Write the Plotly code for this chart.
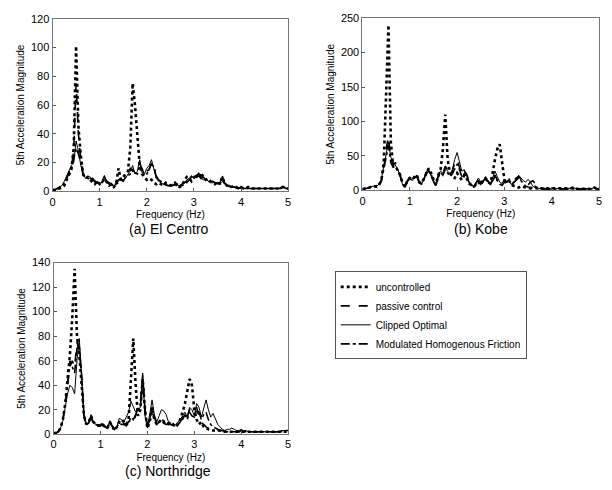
import plotly.graph_objects as go

freq = [0.0, 0.05, 0.1, 0.15, 0.2, 0.25, 0.3, 0.35, 0.4, 0.45,
        0.5, 0.55, 0.6, 0.65, 0.7, 0.75, 0.8, 0.85, 0.9, 0.95,
        1.0, 1.05, 1.1, 1.15, 1.2, 1.25, 1.3, 1.35, 1.4, 1.45,
        1.5, 1.55, 1.6, 1.65, 1.7, 1.75, 1.8, 1.85, 1.9, 1.95,
        2.0, 2.05, 2.1, 2.15, 2.2, 2.25, 2.3, 2.35, 2.4, 2.45,
        2.5, 2.55, 2.6, 2.65, 2.7, 2.75, 2.8, 2.85, 2.9, 2.95,
        3.0, 3.05, 3.1, 3.15, 3.2, 3.25, 3.3, 3.35, 3.4, 3.45,
        3.5, 3.55, 3.6, 3.65, 3.7, 3.75, 3.8, 3.85, 3.9, 3.95,
        4.0, 4.05, 4.1, 4.15, 4.2, 4.25, 4.3, 4.35, 4.4, 4.45,
        4.5, 4.55, 4.6, 4.65, 4.7, 4.75, 4.8, 4.85, 4.9, 4.95,
        5.0]

series_names = ["uncontrolled", "passive control", "Clipped Optimal",
                "Modulated Homogenous Friction"]

# El Centro
ec_unc = [1,1,2,2,3,4,8,12,15,30, 101,45,25,12,9,10,8,6,5,7, 5,6,9,6,4,5,3,5,16,8,
          10,12,14,30,75,60,40,18,12,10, 8,9,8,6,5,6,5,4,6,5, 4,5,6,4,3,4,8,10,9,7,
          10,12,9,13,10,8,9,7,6,5, 7,5,10,6,4,3,3,4,3,2, 3,2,2,3,2,2,2,2,2,2,
          2,2,2,2,2,2,2,3,3,2, 2]
ec_pas = [1,1,2,3,4,6,10,14,17,28, 75,40,22,12,10,11,9,8,7,6, 6,8,10,7,5,6,4,6,8,9,
          10,11,13,16,14,15,16,20,14,12, 14,15,20,18,10,8,6,5,5,4, 4,5,5,4,4,5,6,7,8,9,
          10,11,12,10,9,9,8,7,7,6, 6,6,11,6,4,3,3,3,3,2, 3,2,2,2,2,2,2,2,2,2,
          2,2,2,2,2,2,2,3,2,2, 2]
ec_clip = [1,1,2,3,4,7,11,14,18,20, 35,28,18,12,9,10,10,8,6,7, 5,7,11,6,5,4,4,5,7,9,
           8,9,12,14,18,12,14,22,13,12, 16,18,22,16,9,7,6,5,4,4, 4,5,4,4,4,5,6,8,9,11,
           9,10,13,9,8,9,7,6,6,6, 5,6,10,5,4,3,3,3,2,2, 2,2,2,2,2,2,2,2,2,2,
           2,2,2,2,2,2,2,3,3,2, 2]
ec_mhf = [1,1,2,2,4,6,9,13,16,22, 30,26,20,11,10,9,8,9,7,6, 7,6,8,7,6,5,4,5,6,8,
          7,10,11,12,15,13,12,18,16,11, 12,15,19,17,11,8,7,6,5,5, 4,4,5,5,4,4,5,6,8,10,
          11,10,11,9,10,8,7,7,6,6, 6,5,8,5,4,4,3,3,2,2, 3,2,2,2,2,2,2,2,2,2,
          2,2,2,2,2,2,2,2,3,2, 2]

# Kobe
kb_unc = [2,2,3,4,6,6,5,8,15,40, 150,240,70,35,35,28,22,10,5,15, 18,15,20,22,12,10,18,25,32,25,
          15,8,22,30,60,110,45,25,20,18, 25,20,15,22,18,10,8,5,8,12, 8,15,18,12,10,25,45,60,67,40,
          15,12,14,8,6,5,4,6,5,4, 3,3,4,5,3,3,2,2,2,2, 2,2,2,3,2,2,3,2,3,4,
          3,2,3,2,3,2,2,3,4,3, 3]
kb_pas = [2,2,3,4,6,6,6,8,14,30, 60,78,45,38,40,32,22,10,4,14, 20,16,18,22,12,8,16,26,30,24,
          14,6,20,30,25,35,30,22,28,40, 45,35,22,28,24,14,8,5,10,16, 10,14,18,14,10,16,22,15,10,8,
          14,12,16,10,14,18,20,16,15,10, 8,12,14,10,6,4,3,2,2,2, 2,2,2,3,2,2,3,2,3,3,
          2,2,3,2,3,2,2,3,3,3, 2]
kb_clip = [2,2,3,4,6,6,6,9,16,35, 55,70,48,42,38,30,20,8,4,15, 18,14,20,20,10,9,17,28,30,22,
           12,8,22,28,25,32,28,24,30,45, 55,40,28,30,22,12,7,6,12,18, 12,12,17,13,9,18,28,20,12,10,
           16,12,14,8,10,14,22,18,14,12, 16,12,6,4,3,3,2,2,2,2, 2,2,2,3,2,2,3,2,3,4,
           3,2,3,2,3,2,2,3,4,3, 3]
kb_mhf = [2,2,3,4,5,6,6,8,13,30, 50,65,40,34,35,28,20,9,5,13, 17,15,18,21,11,9,16,24,28,23,
          13,7,18,26,22,30,25,20,24,32, 38,30,20,24,20,12,8,5,9,14, 9,13,16,12,9,14,20,14,9,7,
          12,10,14,9,12,16,18,14,10,6, 5,4,3,3,2,2,2,2,2,2, 2,2,2,2,2,2,3,2,3,3,
          2,2,3,2,3,2,2,3,3,2, 2]

# Northridge
nr_unc = [1,1,2,5,12,25,45,65,95,135, 80,65,40,15,8,10,15,10,8,7, 7,8,6,5,10,6,3,6,10,12,
          10,8,12,45,78,40,15,20,45,20, 5,10,20,12,8,10,12,10,8,9, 10,8,6,8,12,18,25,35,45,40,
          20,12,8,10,6,5,4,3,3,3, 3,3,3,2,2,2,2,2,2,2, 2,2,2,2,2,2,2,2,2,2,
          2,2,2,2,2,2,2,2,2,2, 2]
nr_pas = [1,1,2,5,12,24,40,55,60,55, 75,70,45,15,8,9,14,9,8,7, 8,7,6,5,10,7,4,6,10,9,
          9,8,10,12,10,15,22,25,48,20, 8,12,18,14,9,8,10,9,8,8, 9,8,7,8,10,14,18,14,20,18,
          18,22,14,10,8,6,5,4,3,3, 3,3,3,2,2,2,2,2,2,2, 3,2,2,2,2,2,2,2,2,2,
          2,2,2,2,2,2,2,2,2,3, 3]
nr_clip = [1,1,2,5,11,22,33,40,38,33, 60,78,50,15,8,10,16,10,8,8, 8,9,6,5,11,7,4,6,13,12,
           10,14,18,27,22,18,20,22,50,15, 5,15,28,16,10,15,20,19,16,10, 8,7,8,10,12,15,18,14,22,20,
           15,25,22,14,22,28,20,14,17,12, 8,6,4,3,4,4,5,4,3,3, 4,3,3,2,2,2,2,2,2,2,
           2,2,2,2,2,2,2,3,3,3, 3]
nr_mhf = [1,1,2,5,12,24,42,60,55,50, 70,72,48,14,8,9,14,9,8,7, 7,8,6,5,9,6,4,6,9,8,
          8,7,9,14,12,16,20,22,45,18, 6,12,22,14,8,10,12,11,9,8, 8,7,7,8,10,12,16,12,18,15,
          14,20,18,12,16,18,12,8,6,5, 4,3,3,2,2,2,2,2,2,2, 2,2,2,2,2,2,2,2,2,2,
          2,2,2,2,2,2,2,2,2,3, 3]

panels = [
    ("x", "y", [ec_unc, ec_pas, ec_clip, ec_mhf]),
    ("x2", "y2", [kb_unc, kb_pas, kb_clip, kb_mhf]),
    ("x3", "y3", [nr_unc, nr_pas, nr_clip, nr_mhf]),
]
styles = [dict(dash="dot", width=2.6), dict(dash="dash", width=1.6),
          dict(dash="solid", width=1.0), dict(dash="dashdot", width=1.6)]

fig = go.Figure()
for pi, (xa, ya, data) in enumerate(panels):
    for si, vals in enumerate(data):
        fig.add_trace(go.Scatter(
            x=freq, y=vals, xaxis=xa, yaxis=ya, mode="lines",
            name=series_names[si], showlegend=(pi == 0),
            line=dict(color="black", **styles[si])))

W, H = 612, 490
def dx(a, b):
    return [a / W, b / W]
def dy(top, bot):
    return [1 - bot / H, 1 - top / H]

font = "Liberation Sans, Arial, sans-serif"
axcommon = dict(showgrid=False, zeroline=False, showline=True, mirror=True,
                linecolor="#777", linewidth=1, ticks="inside", ticklen=3,
                tickcolor="#555", tickfont=dict(size=11, color="black", family=font))

fig.update_layout(
    width=W, height=H, margin=dict(l=0, r=0, t=0, b=0),
    paper_bgcolor="white", plot_bgcolor="white",
    font=dict(family=font, color="black"),
    xaxis=dict(domain=dx(50, 288), range=[0, 5], dtick=1, anchor="y",
               title=dict(text="Frequency (Hz)", font=dict(size=10), standoff=4), **axcommon),
    yaxis=dict(domain=dy(13, 190), range=[0, 120], dtick=20, anchor="x",
               title=dict(text="5th Acceleration Magnitude", font=dict(size=10), standoff=4), **axcommon),
    xaxis2=dict(domain=dx(363, 602), range=[0, 5], dtick=1, anchor="y2",
                title=dict(text="Frequency (Hz)", font=dict(size=10), standoff=4), **axcommon),
    yaxis2=dict(domain=dy(12.5, 189), range=[0, 250], dtick=50, anchor="x2",
                title=dict(text="5th Acceleration Magnitude", font=dict(size=10), standoff=4), **axcommon),
    xaxis3=dict(domain=dx(51, 288), range=[0, 5], dtick=1, anchor="y3",
                title=dict(text="Frequency (Hz)", font=dict(size=10), standoff=4), **axcommon),
    yaxis3=dict(domain=dy(263, 439), range=[0, 140], dtick=20, anchor="x3",
                title=dict(text="5th Acceleration Magnitude", font=dict(size=10), standoff=4), **axcommon),
    legend=dict(x=335 / W, y=1 - 272 / H, xanchor="left", yanchor="top",
                bordercolor="#555", borderwidth=1, bgcolor="white",
                font=dict(size=10, family=font), tracegroupgap=0, itemwidth=30),
    annotations=[
        dict(text="(a) El Centro", x=168 / W, y=1 - 229 / H, xref="paper", yref="paper",
             xanchor="center", yanchor="middle", showarrow=False, font=dict(size=14)),
        dict(text="(b) Kobe", x=483 / W, y=1 - 229 / H, xref="paper", yref="paper",
             xanchor="center", yanchor="middle", showarrow=False, font=dict(size=14)),
        dict(text="(c) Northridge", x=167 / W, y=1 - 477 / H, xref="paper", yref="paper",
             xanchor="center", yanchor="middle", showarrow=False, font=dict(size=14)),
    ],
)

fig.write_html("out.html")
